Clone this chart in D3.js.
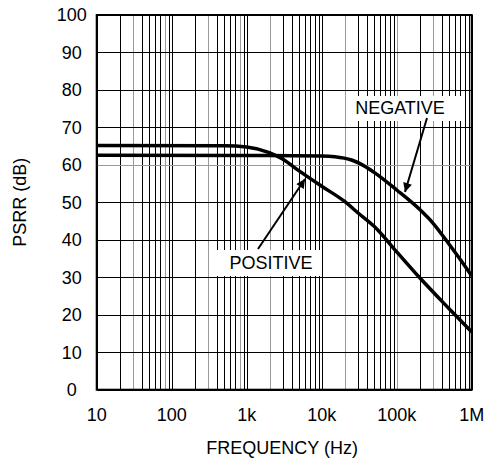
<!DOCTYPE html>
<html lang="en">
<head>
    <meta charset="UTF-8">
    <title>PSRR vs Frequency</title>
    <script src="https://d3js.org/d3.v7.min.js"></script>
    <style>
        body {
            margin: 0;
            background: #fff;
        }

        svg {
            display: block;
            font-family: 'Liberation Sans', Arial, sans-serif;
        }

        .grid line {
            stroke: #000;
            stroke-width: 1;
            shape-rendering: crispEdges;
        }

        .grid line.light {
            stroke: #9a9a9a;
        }

        .curve {
            fill: none;
            stroke: #000;
            stroke-width: 3.5;
        }

        .tick-label, .axis-title, .curve-label {
            fill: #000;
            font-size: 18px;
        }
    </style>
</head>
<body>
    <svg></svg>

    <script>
        // Chart data
        const xTicks = [10, 100, 1e3, 1e4, 1e5, 1e6];
        const xTickLabels = ["10", "100", "1k", "10k", "100k", "1M"];
        const yTicks = [0, 10, 20, 30, 40, 50, 60, 70, 80, 90, 100];

        const positiveFreq = [10, 500, 1000, 2000, 3000, 5000, 10000, 20000, 30000, 50000, 100000, 200000, 500000, 1000000];
        const positiveDb   = [65.2, 65.1, 64.8, 63.3, 61.6, 58.4, 54.3, 50.3, 47.3, 43.6, 36.8, 30.0, 21.6, 15.4];

        const negativeFreq = [10, 1000, 10000, 15000, 20000, 25000, 32000, 50000, 100000, 200000, 300000, 500000, 700000, 1000000];
        const negativeDb   = [62.6, 62.5, 62.4, 62.2, 61.8, 61.3, 60.4, 58.0, 53.3, 48.2, 44.6, 38.8, 34.8, 30.4];

        // gridlines that came out lighter in the printed original
        const lightFreqs = [30, 80, 300, 800, 2000, 20000, 100000, 300000];
        const lightDb = [60];

        const W = 485, H = 462;
        const margin = { top: 15, right: 13.3, bottom: 72.3, left: 96.7 };
        const innerW = W - margin.left - margin.right;
        const innerH = H - margin.top - margin.bottom;

        const svg = d3.select("svg").attr("width", W).attr("height", H);

        const x = d3.scaleLog().domain([10, 1e6]).range([0, innerW]);
        const y = d3.scaleLinear().domain([0, 100]).range([innerH, 0]);

        const g = svg.append("g")
            .attr("transform", `translate(${margin.left},${margin.top})`);

        // Log grid: 1..9 in each decade
        const minorFreqs = [];
        for (let dec = 10; dec < 1e6; dec *= 10) {
            for (let m = 1; m < 10; m++) minorFreqs.push(dec * m);
        }
        minorFreqs.push(1e6);

        const grid = g.append("g").attr("class", "grid");

        grid.selectAll("line.v")
            .data(minorFreqs)
            .enter().append("line")
            .attr("class", d => lightFreqs.some(f => Math.abs(f - d) < 1) ? "v light" : "v")
            .attr("x1", d => Math.round(x(d)) + 0.5)
            .attr("x2", d => Math.round(x(d)) + 0.5)
            .attr("y1", 0)
            .attr("y2", innerH);

        grid.selectAll("line.h")
            .data(yTicks)
            .enter().append("line")
            .attr("class", d => lightDb.includes(d) ? "h light" : "h")
            .attr("x1", 0)
            .attr("x2", innerW)
            .attr("y1", d => Math.round(y(d)) + 0.5)
            .attr("y2", d => Math.round(y(d)) + 0.5);

        // Frame
        g.append("rect")
            .attr("width", innerW)
            .attr("height", innerH)
            .attr("fill", "none")
            .attr("stroke", "#000")
            .attr("stroke-width", 2);

        // Tick labels
        g.selectAll("text.ytick")
            .data(yTicks)
            .enter().append("text")
            .attr("class", "tick-label")
            .attr("x", -25)
            .attr("y", d => y(d))
            .attr("dy", "0.35em")
            .attr("text-anchor", "middle")
            .text(d => d);

        g.selectAll("text.xtick")
            .data(xTicks)
            .enter().append("text")
            .attr("class", "tick-label")
            .attr("x", d => x(d))
            .attr("y", innerH + 31)
            .attr("text-anchor", "middle")
            .text((d, i) => xTickLabels[i]);

        // Axis titles
        svg.append("text")
            .attr("class", "axis-title")
            .attr("x", margin.left + innerW / 2 - 2)
            .attr("y", 454)
            .attr("text-anchor", "middle")
            .text("FREQUENCY (Hz)");

        svg.append("text")
            .attr("class", "axis-title")
            .attr("transform", `translate(25.5,${margin.top + innerH / 2}) rotate(-90)`)
            .attr("text-anchor", "middle")
            .text("PSRR (dB)");

        // Curves
        const line = d3.line()
            .x(d => x(d[0]))
            .y(d => y(d[1]))
            .curve(d3.curveMonotoneX);

        const positive = positiveFreq.map((f, i) => [f, positiveDb[i]]);
        const negative = negativeFreq.map((f, i) => [f, negativeDb[i]]);

        g.append("path").attr("class", "curve").attr("d", line(positive));
        g.append("path").attr("class", "curve").attr("d", line(negative));

        // Callout labels with white boxes that hide the grid
        const callouts = [
            { text: "NEGATIVE", cx: 400, base: 114, box: [347, 96, 116, 25], from: [427, 118], to: [405, 192] },
            { text: "POSITIVE", cx: 271, base: 269, box: [213, 250, 109, 26], from: [258, 249], to: [305, 179] }
        ];

        svg.append("defs").append("marker")
            .attr("id", "head")
            .attr("viewBox", "0 0 10 10")
            .attr("refX", 10)
            .attr("refY", 5)
            .attr("markerUnits", "userSpaceOnUse")
            .attr("markerWidth", 12)
            .attr("markerHeight", 9)
            .attr("orient", "auto")
            .append("path")
            .attr("d", "M0,0 L10,5 L0,10 Z")
            .attr("fill", "#000");

        callouts.forEach(c => {
            svg.append("rect")
                .attr("x", c.box[0]).attr("y", c.box[1])
                .attr("width", c.box[2]).attr("height", c.box[3])
                .attr("fill", "#fff");

            svg.append("text")
                .attr("class", "curve-label")
                .attr("x", c.cx)
                .attr("y", c.base)
                .attr("text-anchor", "middle")
                .text(c.text);

            svg.append("line")
                .attr("x1", c.from[0]).attr("y1", c.from[1])
                .attr("x2", c.to[0]).attr("y2", c.to[1])
                .attr("stroke", "#000")
                .attr("stroke-width", 2)
                .attr("marker-end", "url(#head)");
        });
    </script>
</body>
</html>
